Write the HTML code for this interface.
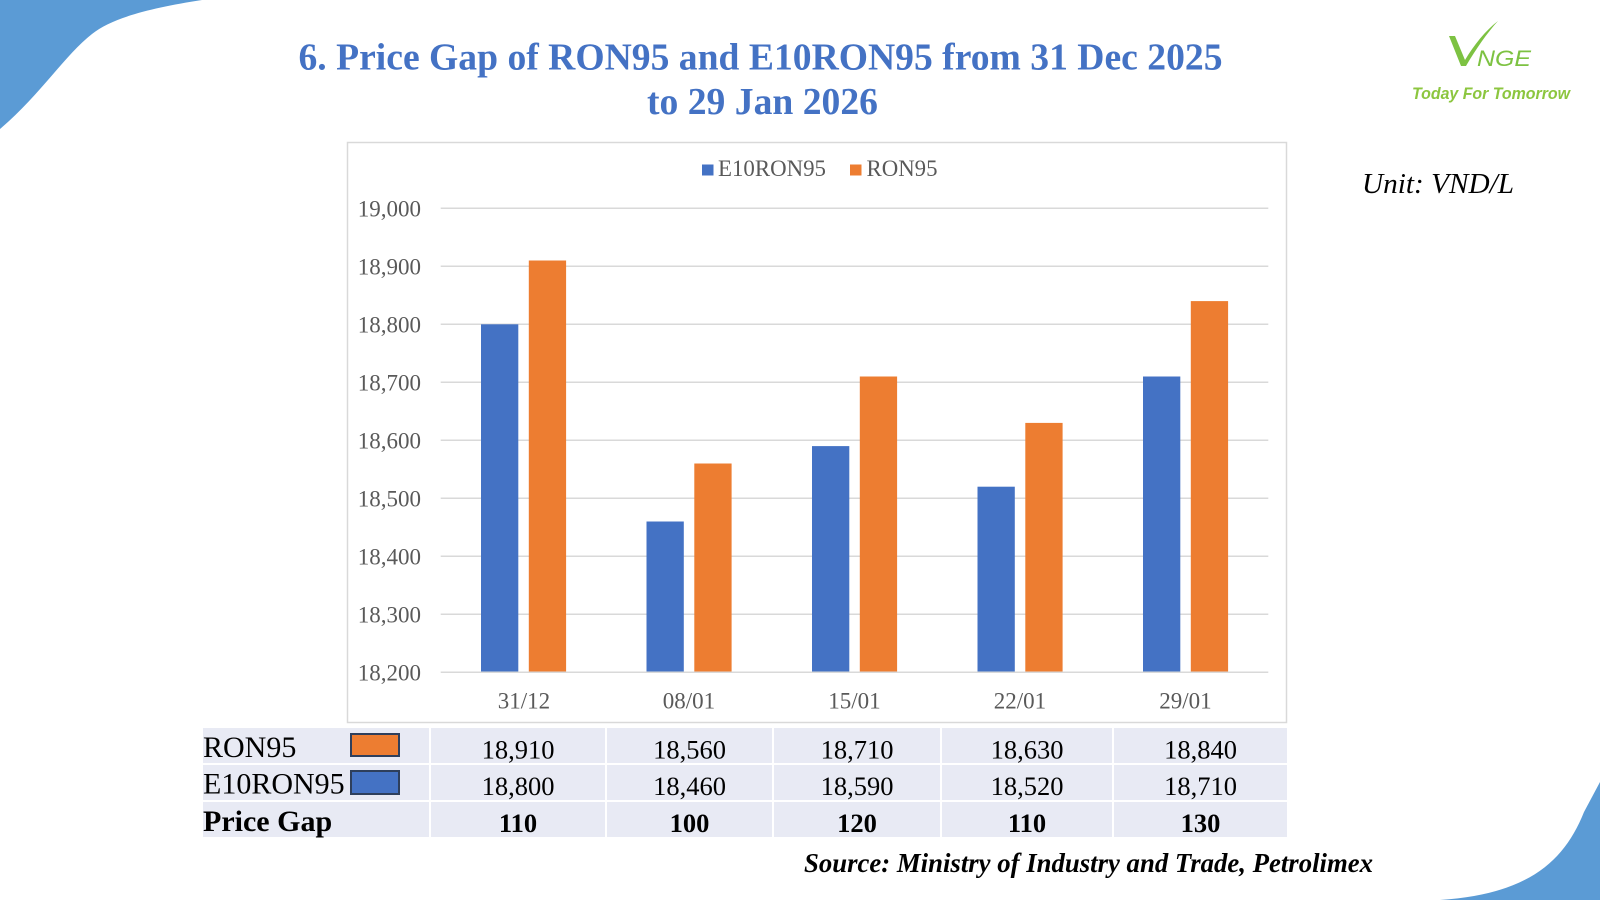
<!DOCTYPE html>
<html>
<head>
<meta charset="utf-8">
<style>
  html, body { margin: 0; padding: 0; background: #ffffff; }
  svg { display: block; }
  .serif { font-family: "Liberation Serif", "Times New Roman", serif; }
</style>
</head>
<body>
<svg width="1600" height="900" viewBox="0 0 1600 900" xmlns="http://www.w3.org/2000/svg">
  <rect x="0" y="0" width="1600" height="900" fill="#ffffff"/>

  <!-- decorative corner shapes -->
  <path d="M0,0 H202 C150,8 112,18 92,34 C66,54 40,95 0,129 Z" fill="#5b9bd5"/>
  <path d="M1440,900 C1528,894 1564,862 1584,812 L1600,782 L1600,900 Z" fill="#5b9bd5"/>

  <!-- Title -->
  <g class="serif" font-weight="bold" fill="#4472c4" font-size="38" text-anchor="middle">
    <text x="760.5" y="69.5" textLength="924" lengthAdjust="spacingAndGlyphs">6. Price Gap of RON95 and E10RON95 from 31 Dec 2025</text>
    <text x="762.5" y="114" textLength="231" lengthAdjust="spacingAndGlyphs">to 29 Jan 2026</text>
  </g>

  <!-- Logo -->
  <path d="M1449,36 L1455,36 L1465,60 C1474,45 1485,31 1498,21 C1487,33 1476,49 1466,66 L1461,66 Z" fill="#7dc242"/>
  <text x="1477" y="66" font-family="'Liberation Sans', sans-serif" font-style="italic" font-size="22" fill="#7dc242" textLength="54" lengthAdjust="spacingAndGlyphs">NGE</text>
  <text x="1412" y="99" font-family="'Liberation Sans', sans-serif" font-weight="bold" font-style="italic" font-size="17" fill="#8cc63f" textLength="158" lengthAdjust="spacingAndGlyphs">Today For Tomorrow</text>

  <!-- Unit -->
  <text class="serif" x="1362" y="193" font-style="italic" font-size="29" fill="#000000" textLength="152" lengthAdjust="spacingAndGlyphs">Unit: VND/L</text>

  <!-- Chart box -->
  <rect x="347.5" y="142.5" width="939" height="580" fill="#ffffff" stroke="#d9d9d9" stroke-width="1.5"/>

  <!-- Legend -->
  <rect x="702" y="164.5" width="11.5" height="11" fill="#4472c4"/>
  <text class="serif" x="718" y="176" font-size="23" fill="#595959" textLength="108" lengthAdjust="spacingAndGlyphs">E10RON95</text>
  <rect x="850" y="164.5" width="11.5" height="11" fill="#ed7d31"/>
  <text class="serif" x="866.5" y="176" font-size="23" fill="#595959" textLength="71" lengthAdjust="spacingAndGlyphs">RON95</text>

  <!-- Gridlines -->
  <g stroke="#d9d9d9" stroke-width="1.5">
    <line x1="440.7" x2="1268.3" y1="208.3" y2="208.3"/>
    <line x1="440.7" x2="1268.3" y1="266.3" y2="266.3"/>
    <line x1="440.7" x2="1268.3" y1="324.3" y2="324.3"/>
    <line x1="440.7" x2="1268.3" y1="382.3" y2="382.3"/>
    <line x1="440.7" x2="1268.3" y1="440.3" y2="440.3"/>
    <line x1="440.7" x2="1268.3" y1="498.3" y2="498.3"/>
    <line x1="440.7" x2="1268.3" y1="556.3" y2="556.3"/>
    <line x1="440.7" x2="1268.3" y1="614.3" y2="614.3"/>
  </g>

  <!-- Y labels -->
  <g class="serif" font-size="23" fill="#595959" text-anchor="end">
    <text x="421" y="216.3">19,000</text>
    <text x="421" y="274.3">18,900</text>
    <text x="421" y="332.3">18,800</text>
    <text x="421" y="390.3">18,700</text>
    <text x="421" y="448.3">18,600</text>
    <text x="421" y="506.3">18,500</text>
    <text x="421" y="564.3">18,400</text>
    <text x="421" y="622.3">18,300</text>
    <text x="421" y="680.3">18,200</text>
  </g>

  <!-- Bars -->
  <g fill="#4472c4">
    <rect x="481" y="324.3" width="37.3" height="348"/>
    <rect x="646.5" y="521.5" width="37.3" height="150.8"/>
    <rect x="812" y="446.1" width="37.3" height="226.2"/>
    <rect x="977.5" y="486.7" width="37.3" height="185.6"/>
    <rect x="1143" y="376.5" width="37.3" height="295.8"/>
  </g>
  <g fill="#ed7d31">
    <rect x="528.8" y="260.5" width="37.3" height="411.8"/>
    <rect x="694.3" y="463.5" width="37.3" height="208.8"/>
    <rect x="859.8" y="376.5" width="37.3" height="295.8"/>
    <rect x="1025.3" y="422.9" width="37.3" height="249.4"/>
    <rect x="1190.8" y="301.1" width="37.3" height="371.2"/>
  </g>

  <!-- Axis line -->
  <line x1="440.7" x2="1268.3" y1="672.3" y2="672.3" stroke="#d9d9d9" stroke-width="1.5"/>

  <!-- Category labels -->
  <g class="serif" font-size="23" fill="#595959" text-anchor="middle">
    <text x="524" y="708.5">31/12</text>
    <text x="689" y="708.5">08/01</text>
    <text x="854.5" y="708.5">15/01</text>
    <text x="1020" y="708.5">22/01</text>
    <text x="1185.5" y="708.5">29/01</text>
  </g>

  <!-- Table -->
  <g fill="#e8eaf4">
    <rect x="203" y="728" width="226" height="35"/>
    <rect x="431" y="728" width="174" height="35"/>
    <rect x="607" y="728" width="165" height="35"/>
    <rect x="774" y="728" width="166" height="35"/>
    <rect x="942" y="728" width="170" height="35"/>
    <rect x="1114" y="728" width="173" height="35"/>

    <rect x="203" y="765" width="226" height="35"/>
    <rect x="431" y="765" width="174" height="35"/>
    <rect x="607" y="765" width="165" height="35"/>
    <rect x="774" y="765" width="166" height="35"/>
    <rect x="942" y="765" width="170" height="35"/>
    <rect x="1114" y="765" width="173" height="35"/>

    <rect x="203" y="802" width="226" height="35"/>
    <rect x="431" y="802" width="174" height="35"/>
    <rect x="607" y="802" width="165" height="35"/>
    <rect x="774" y="802" width="166" height="35"/>
    <rect x="942" y="802" width="170" height="35"/>
    <rect x="1114" y="802" width="173" height="35"/>
  </g>

  <g class="serif" fill="#000000">
    <text x="203" y="757" font-size="30">RON95</text>
    <text x="203" y="793.5" font-size="30">E10RON95</text>
    <text x="203" y="831" font-size="30" font-weight="bold">Price Gap</text>
  </g>
  <rect x="351" y="734" width="48" height="22" fill="#ed7d31" stroke="#2e3f5c" stroke-width="2"/>
  <rect x="351" y="771" width="48" height="23" fill="#4472c4" stroke="#2e3f5c" stroke-width="2"/>

  <g class="serif" fill="#000000" font-size="26.5" text-anchor="middle">
    <text x="518" y="758.5">18,910</text>
    <text x="689.5" y="758.5">18,560</text>
    <text x="857" y="758.5">18,710</text>
    <text x="1027" y="758.5">18,630</text>
    <text x="1200.5" y="758.5">18,840</text>

    <text x="518" y="795">18,800</text>
    <text x="689.5" y="795">18,460</text>
    <text x="857" y="795">18,590</text>
    <text x="1027" y="795">18,520</text>
    <text x="1200.5" y="795">18,710</text>
  </g>
  <g class="serif" fill="#000000" font-size="26.5" font-weight="bold" text-anchor="middle">
    <text x="518" y="832">110</text>
    <text x="689.5" y="832">100</text>
    <text x="857" y="832">120</text>
    <text x="1027" y="832">110</text>
    <text x="1200.5" y="832">130</text>
  </g>

  <!-- Source -->
  <text class="serif" x="804" y="872" font-size="27" font-weight="bold" font-style="italic" fill="#000000" textLength="569" lengthAdjust="spacingAndGlyphs">Source: Ministry of Industry and Trade, Petrolimex</text>
</svg>
</body>
</html>
